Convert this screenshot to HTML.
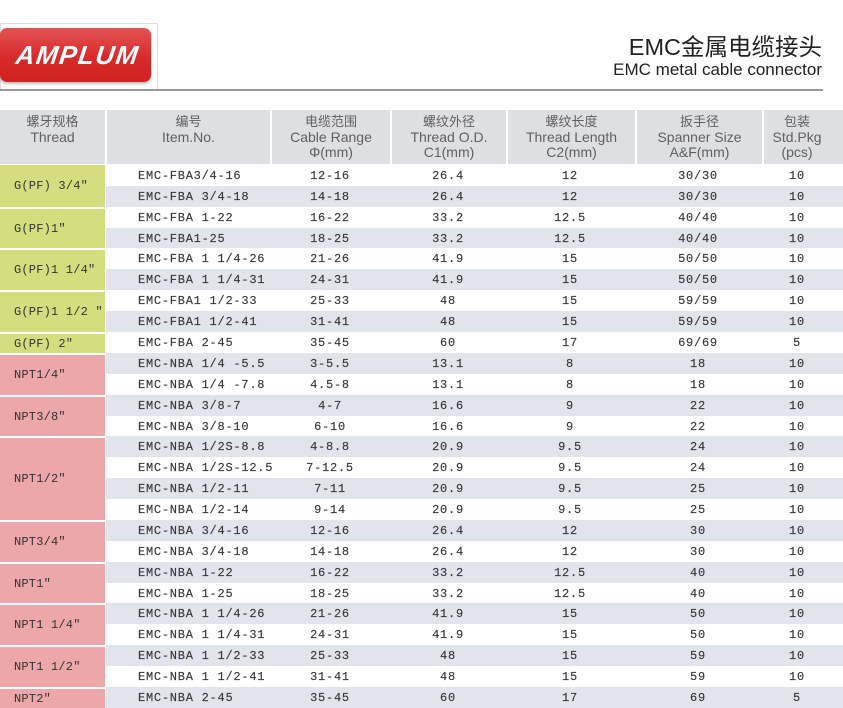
<!DOCTYPE html>
<html>
<head>
<meta charset="utf-8">
<style>
*{margin:0;padding:0;box-sizing:border-box;}
html,body{width:843px;height:708px;background:#fff;overflow:hidden;}
body{position:relative;font-family:"Liberation Sans","Noto Sans CJK SC",sans-serif;}
.abs{position:absolute;}
.logobox{left:0;top:23px;width:158px;height:68px;border:1px solid #dcdcdc;border-bottom:none;background:#fff;}
.logo{left:0;top:28px;width:151px;height:54px;border-radius:7px;background:linear-gradient(#e35454,#d92a2a 55%,#d12222);box-shadow:0 2px 2px rgba(0,0,0,0.25);}
.logo span{position:absolute;left:16px;top:12px;font:italic bold 26px "Liberation Sans",sans-serif;color:#fff;letter-spacing:1.5px;transform:skewX(-8deg);display:inline-block;}
.hline{left:0;top:89px;width:823px;height:2px;background:#9a9a9a;}
.t1{right:21px;top:28px;font-size:23.5px;color:#222;white-space:nowrap;font-family:"Liberation Sans","Noto Sans CJK SC",sans-serif;}
.t2{right:21px;top:60px;font-size:17px;color:#222;white-space:nowrap;}
.hdr{top:110px;height:54px;background:#dedfe3;}
.hc{position:absolute;top:114px;text-align:center;color:#606060;line-height:15.5px;font-size:14px;}
.hc .cn{font-size:13px;font-family:"Liberation Sans","Noto Sans CJK SC",sans-serif;}
.row{position:absolute;left:106px;width:737px;}
.g{background:#e2e4eb;}
.lc{position:absolute;left:0;width:105px;font-family:"Liberation Mono",monospace;font-size:12px;color:#333;padding-left:14px;display:flex;align-items:center;letter-spacing:0.2px;}
.green{background:#d5de7f;border-top:2px solid #fff;}
.pink{background:#eba7aa;border-top:2px solid #fff;}
.d{position:absolute;font-family:"Liberation Mono",monospace;font-size:12px;letter-spacing:0.75px;color:#383838;white-space:pre;-webkit-text-stroke:0.15px #383838;}
.c{text-align:center;}
</style>
</head>
<body>
<div class="abs logobox"></div>
<div class="abs logo"><span>AMPLUM</span></div>
<div class="abs hline"></div>
<div class="abs t1">EMC金属电缆接头</div>
<div class="abs t2">EMC metal cable connector</div>

<div class="abs hdr" style="left:0;width:105px;"></div>
<div class="abs hdr" style="left:107px;width:163px;"></div>
<div class="abs hdr" style="left:272px;width:118px;"></div>
<div class="abs hdr" style="left:392px;width:114px;"></div>
<div class="abs hdr" style="left:508px;width:127px;"></div>
<div class="abs hdr" style="left:637px;width:125px;"></div>
<div class="abs hdr" style="left:764px;width:79px;"></div>

<div class="hc" style="left:0;width:105px;"><div class="cn">螺牙规格</div><div>Thread</div></div>
<div class="hc" style="left:107px;width:163px;"><div class="cn">编号</div><div>Item.No.</div></div>
<div class="hc" style="left:272px;width:118px;"><div class="cn">电缆范围</div><div>Cable Range</div><div>Φ(mm)</div></div>
<div class="hc" style="left:392px;width:114px;"><div class="cn">螺纹外径</div><div>Thread O.D.</div><div>C1(mm)</div></div>
<div class="hc" style="left:508px;width:127px;"><div class="cn">螺纹长度</div><div>Thread Length</div><div>C2(mm)</div></div>
<div class="hc" style="left:637px;width:125px;"><div class="cn">扳手径</div><div>Spanner Size</div><div>A&amp;F(mm)</div></div>
<div class="hc" style="left:764px;width:66px;"><div class="cn">包装</div><div>Std.Pkg</div><div>(pcs)</div></div>

<div class="row g" style="top:186px;height:21px;"></div>
<div class="row g" style="top:228px;height:20px;"></div>
<div class="row g" style="top:269px;height:21px;"></div>
<div class="row g" style="top:311px;height:21px;"></div>
<div class="row g" style="top:353px;height:21px;"></div>
<div class="row g" style="top:395px;height:21px;"></div>
<div class="row g" style="top:436px;height:21px;"></div>
<div class="row g" style="top:478px;height:21px;"></div>
<div class="row g" style="top:520px;height:21px;"></div>
<div class="row g" style="top:562px;height:21px;"></div>
<div class="row g" style="top:603px;height:21px;"></div>
<div class="row g" style="top:645px;height:21px;"></div>
<div class="row g" style="top:687px;height:21px;"></div>

<div class="lc green" style="top:165px;height:42px;border-top:none;">G(PF) 3/4″</div>
<div class="lc green" style="top:207px;height:41px;">G(PF)1″</div>
<div class="lc green" style="top:248px;height:42px;">G(PF)1 1/4″</div>
<div class="lc green" style="top:290px;height:42px;">G(PF)1 1/2 ″</div>
<div class="lc green" style="top:332px;height:21px;">G(PF) 2″</div>
<div class="lc pink" style="top:353px;height:42px;">NPT1/4″</div>
<div class="lc pink" style="top:395px;height:41px;">NPT3/8″</div>
<div class="lc pink" style="top:436px;height:84px;">NPT1/2″</div>
<div class="lc pink" style="top:520px;height:42px;">NPT3/4″</div>
<div class="lc pink" style="top:562px;height:41px;">NPT1″</div>
<div class="lc pink" style="top:603px;height:42px;">NPT1 1/4″</div>
<div class="lc pink" style="top:645px;height:42px;">NPT1 1/2″</div>
<div class="lc pink" style="top:687px;height:21px;">NPT2″</div>

<div class="d" style="left:138px;top:169px;">EMC-FBA3/4-16</div>
<div class="d c" style="left:280px;width:100px;top:169px;">12-16</div>
<div class="d c" style="left:398px;width:100px;top:169px;">26.4</div>
<div class="d c" style="left:520px;width:100px;top:169px;">12</div>
<div class="d c" style="left:648px;width:100px;top:169px;">30/30</div>
<div class="d c" style="left:747px;width:100px;top:169px;">10</div>

<div class="d" style="left:138px;top:190px;">EMC-FBA 3/4-18</div>
<div class="d c" style="left:280px;width:100px;top:190px;">14-18</div>
<div class="d c" style="left:398px;width:100px;top:190px;">26.4</div>
<div class="d c" style="left:520px;width:100px;top:190px;">12</div>
<div class="d c" style="left:648px;width:100px;top:190px;">30/30</div>
<div class="d c" style="left:747px;width:100px;top:190px;">10</div>

<div class="d" style="left:138px;top:211px;">EMC-FBA 1-22</div>
<div class="d c" style="left:280px;width:100px;top:211px;">16-22</div>
<div class="d c" style="left:398px;width:100px;top:211px;">33.2</div>
<div class="d c" style="left:520px;width:100px;top:211px;">12.5</div>
<div class="d c" style="left:648px;width:100px;top:211px;">40/40</div>
<div class="d c" style="left:747px;width:100px;top:211px;">10</div>

<div class="d" style="left:138px;top:232px;">EMC-FBA1-25</div>
<div class="d c" style="left:280px;width:100px;top:232px;">18-25</div>
<div class="d c" style="left:398px;width:100px;top:232px;">33.2</div>
<div class="d c" style="left:520px;width:100px;top:232px;">12.5</div>
<div class="d c" style="left:648px;width:100px;top:232px;">40/40</div>
<div class="d c" style="left:747px;width:100px;top:232px;">10</div>

<div class="d" style="left:138px;top:252px;">EMC-FBA 1 1/4-26</div>
<div class="d c" style="left:280px;width:100px;top:252px;">21-26</div>
<div class="d c" style="left:398px;width:100px;top:252px;">41.9</div>
<div class="d c" style="left:520px;width:100px;top:252px;">15</div>
<div class="d c" style="left:648px;width:100px;top:252px;">50/50</div>
<div class="d c" style="left:747px;width:100px;top:252px;">10</div>

<div class="d" style="left:138px;top:273px;">EMC-FBA 1 1/4-31</div>
<div class="d c" style="left:280px;width:100px;top:273px;">24-31</div>
<div class="d c" style="left:398px;width:100px;top:273px;">41.9</div>
<div class="d c" style="left:520px;width:100px;top:273px;">15</div>
<div class="d c" style="left:648px;width:100px;top:273px;">50/50</div>
<div class="d c" style="left:747px;width:100px;top:273px;">10</div>

<div class="d" style="left:138px;top:294px;">EMC-FBA1 1/2-33</div>
<div class="d c" style="left:280px;width:100px;top:294px;">25-33</div>
<div class="d c" style="left:398px;width:100px;top:294px;">48</div>
<div class="d c" style="left:520px;width:100px;top:294px;">15</div>
<div class="d c" style="left:648px;width:100px;top:294px;">59/59</div>
<div class="d c" style="left:747px;width:100px;top:294px;">10</div>

<div class="d" style="left:138px;top:315px;">EMC-FBA1 1/2-41</div>
<div class="d c" style="left:280px;width:100px;top:315px;">31-41</div>
<div class="d c" style="left:398px;width:100px;top:315px;">48</div>
<div class="d c" style="left:520px;width:100px;top:315px;">15</div>
<div class="d c" style="left:648px;width:100px;top:315px;">59/59</div>
<div class="d c" style="left:747px;width:100px;top:315px;">10</div>

<div class="d" style="left:138px;top:336px;">EMC-FBA 2-45</div>
<div class="d c" style="left:280px;width:100px;top:336px;">35-45</div>
<div class="d c" style="left:398px;width:100px;top:336px;">60</div>
<div class="d c" style="left:520px;width:100px;top:336px;">17</div>
<div class="d c" style="left:648px;width:100px;top:336px;">69/69</div>
<div class="d c" style="left:747px;width:100px;top:336px;">5</div>

<div class="d" style="left:138px;top:357px;">EMC-NBA 1/4 -5.5</div>
<div class="d c" style="left:280px;width:100px;top:357px;">3-5.5</div>
<div class="d c" style="left:398px;width:100px;top:357px;">13.1</div>
<div class="d c" style="left:520px;width:100px;top:357px;">8</div>
<div class="d c" style="left:648px;width:100px;top:357px;">18</div>
<div class="d c" style="left:747px;width:100px;top:357px;">10</div>

<div class="d" style="left:138px;top:378px;">EMC-NBA 1/4 -7.8</div>
<div class="d c" style="left:280px;width:100px;top:378px;">4.5-8</div>
<div class="d c" style="left:398px;width:100px;top:378px;">13.1</div>
<div class="d c" style="left:520px;width:100px;top:378px;">8</div>
<div class="d c" style="left:648px;width:100px;top:378px;">18</div>
<div class="d c" style="left:747px;width:100px;top:378px;">10</div>

<div class="d" style="left:138px;top:399px;">EMC-NBA 3/8-7</div>
<div class="d c" style="left:280px;width:100px;top:399px;">4-7</div>
<div class="d c" style="left:398px;width:100px;top:399px;">16.6</div>
<div class="d c" style="left:520px;width:100px;top:399px;">9</div>
<div class="d c" style="left:648px;width:100px;top:399px;">22</div>
<div class="d c" style="left:747px;width:100px;top:399px;">10</div>

<div class="d" style="left:138px;top:420px;">EMC-NBA 3/8-10</div>
<div class="d c" style="left:280px;width:100px;top:420px;">6-10</div>
<div class="d c" style="left:398px;width:100px;top:420px;">16.6</div>
<div class="d c" style="left:520px;width:100px;top:420px;">9</div>
<div class="d c" style="left:648px;width:100px;top:420px;">22</div>
<div class="d c" style="left:747px;width:100px;top:420px;">10</div>

<div class="d" style="left:138px;top:440px;">EMC-NBA 1/2S-8.8</div>
<div class="d c" style="left:280px;width:100px;top:440px;">4-8.8</div>
<div class="d c" style="left:398px;width:100px;top:440px;">20.9</div>
<div class="d c" style="left:520px;width:100px;top:440px;">9.5</div>
<div class="d c" style="left:648px;width:100px;top:440px;">24</div>
<div class="d c" style="left:747px;width:100px;top:440px;">10</div>

<div class="d" style="left:138px;top:461px;">EMC-NBA 1/2S-12.5</div>
<div class="d c" style="left:280px;width:100px;top:461px;">7-12.5</div>
<div class="d c" style="left:398px;width:100px;top:461px;">20.9</div>
<div class="d c" style="left:520px;width:100px;top:461px;">9.5</div>
<div class="d c" style="left:648px;width:100px;top:461px;">24</div>
<div class="d c" style="left:747px;width:100px;top:461px;">10</div>

<div class="d" style="left:138px;top:482px;">EMC-NBA 1/2-11</div>
<div class="d c" style="left:280px;width:100px;top:482px;">7-11</div>
<div class="d c" style="left:398px;width:100px;top:482px;">20.9</div>
<div class="d c" style="left:520px;width:100px;top:482px;">9.5</div>
<div class="d c" style="left:648px;width:100px;top:482px;">25</div>
<div class="d c" style="left:747px;width:100px;top:482px;">10</div>

<div class="d" style="left:138px;top:503px;">EMC-NBA 1/2-14</div>
<div class="d c" style="left:280px;width:100px;top:503px;">9-14</div>
<div class="d c" style="left:398px;width:100px;top:503px;">20.9</div>
<div class="d c" style="left:520px;width:100px;top:503px;">9.5</div>
<div class="d c" style="left:648px;width:100px;top:503px;">25</div>
<div class="d c" style="left:747px;width:100px;top:503px;">10</div>

<div class="d" style="left:138px;top:524px;">EMC-NBA 3/4-16</div>
<div class="d c" style="left:280px;width:100px;top:524px;">12-16</div>
<div class="d c" style="left:398px;width:100px;top:524px;">26.4</div>
<div class="d c" style="left:520px;width:100px;top:524px;">12</div>
<div class="d c" style="left:648px;width:100px;top:524px;">30</div>
<div class="d c" style="left:747px;width:100px;top:524px;">10</div>

<div class="d" style="left:138px;top:545px;">EMC-NBA 3/4-18</div>
<div class="d c" style="left:280px;width:100px;top:545px;">14-18</div>
<div class="d c" style="left:398px;width:100px;top:545px;">26.4</div>
<div class="d c" style="left:520px;width:100px;top:545px;">12</div>
<div class="d c" style="left:648px;width:100px;top:545px;">30</div>
<div class="d c" style="left:747px;width:100px;top:545px;">10</div>

<div class="d" style="left:138px;top:566px;">EMC-NBA 1-22</div>
<div class="d c" style="left:280px;width:100px;top:566px;">16-22</div>
<div class="d c" style="left:398px;width:100px;top:566px;">33.2</div>
<div class="d c" style="left:520px;width:100px;top:566px;">12.5</div>
<div class="d c" style="left:648px;width:100px;top:566px;">40</div>
<div class="d c" style="left:747px;width:100px;top:566px;">10</div>

<div class="d" style="left:138px;top:587px;">EMC-NBA 1-25</div>
<div class="d c" style="left:280px;width:100px;top:587px;">18-25</div>
<div class="d c" style="left:398px;width:100px;top:587px;">33.2</div>
<div class="d c" style="left:520px;width:100px;top:587px;">12.5</div>
<div class="d c" style="left:648px;width:100px;top:587px;">40</div>
<div class="d c" style="left:747px;width:100px;top:587px;">10</div>

<div class="d" style="left:138px;top:607px;">EMC-NBA 1 1/4-26</div>
<div class="d c" style="left:280px;width:100px;top:607px;">21-26</div>
<div class="d c" style="left:398px;width:100px;top:607px;">41.9</div>
<div class="d c" style="left:520px;width:100px;top:607px;">15</div>
<div class="d c" style="left:648px;width:100px;top:607px;">50</div>
<div class="d c" style="left:747px;width:100px;top:607px;">10</div>

<div class="d" style="left:138px;top:628px;">EMC-NBA 1 1/4-31</div>
<div class="d c" style="left:280px;width:100px;top:628px;">24-31</div>
<div class="d c" style="left:398px;width:100px;top:628px;">41.9</div>
<div class="d c" style="left:520px;width:100px;top:628px;">15</div>
<div class="d c" style="left:648px;width:100px;top:628px;">50</div>
<div class="d c" style="left:747px;width:100px;top:628px;">10</div>

<div class="d" style="left:138px;top:649px;">EMC-NBA 1 1/2-33</div>
<div class="d c" style="left:280px;width:100px;top:649px;">25-33</div>
<div class="d c" style="left:398px;width:100px;top:649px;">48</div>
<div class="d c" style="left:520px;width:100px;top:649px;">15</div>
<div class="d c" style="left:648px;width:100px;top:649px;">59</div>
<div class="d c" style="left:747px;width:100px;top:649px;">10</div>

<div class="d" style="left:138px;top:670px;">EMC-NBA 1 1/2-41</div>
<div class="d c" style="left:280px;width:100px;top:670px;">31-41</div>
<div class="d c" style="left:398px;width:100px;top:670px;">48</div>
<div class="d c" style="left:520px;width:100px;top:670px;">15</div>
<div class="d c" style="left:648px;width:100px;top:670px;">59</div>
<div class="d c" style="left:747px;width:100px;top:670px;">10</div>

<div class="d" style="left:138px;top:691px;">EMC-NBA 2-45</div>
<div class="d c" style="left:280px;width:100px;top:691px;">35-45</div>
<div class="d c" style="left:398px;width:100px;top:691px;">60</div>
<div class="d c" style="left:520px;width:100px;top:691px;">17</div>
<div class="d c" style="left:648px;width:100px;top:691px;">69</div>
<div class="d c" style="left:747px;width:100px;top:691px;">5</div>
</body>
</html>
